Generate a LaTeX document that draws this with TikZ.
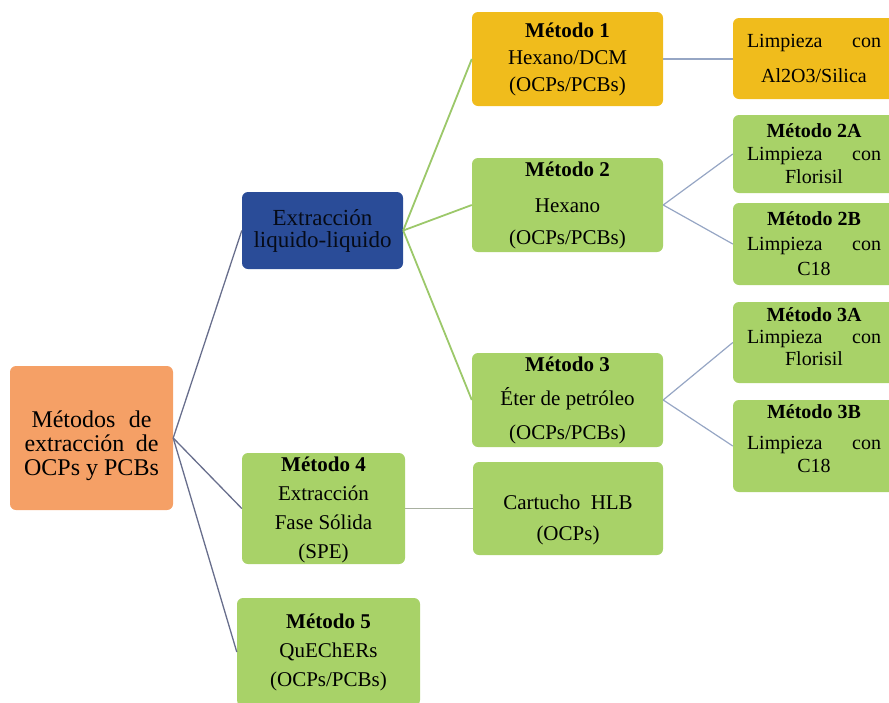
\documentclass[tikz,border=0pt]{standalone}
\usepackage{fontspec}
\setmainfont{Liberation Serif}
\definecolor{rootfill}{RGB}{245,160,102}
\definecolor{llfill}{RGB}{42,76,152}
\definecolor{greenfill}{RGB}{168,210,104}
\definecolor{goldfill}{RGB}{240,188,28}
\definecolor{rootline}{RGB}{104,110,140}
\definecolor{greenline}{RGB}{156,200,106}
\definecolor{subline}{RGB}{150,166,196}
\definecolor{hlbline}{RGB}{168,176,160}
\begin{document}
\begin{tikzpicture}[x=1pt,y=-1pt,
  box/.style={rounded corners=6pt, inner sep=0pt, align=center, text=black,
    font=\fontsize{21}{27}\selectfont},
  green/.style={box, fill=greenfill},
  gold/.style={box, fill=goldfill},
  midbox/.style={minimum width=191pt, minimum height=94pt},
  rightbox/.style={minimum width=162pt, font=\fontsize{20}{23}\selectfont},
  rootlink/.style={draw=rootline, line width=1.3pt},
  greenlink/.style={draw=greenline, line width=1.8pt},
  sublink/.style={draw=subline, line width=1.2pt}]
\useasboundingbox (0,0) rectangle (889,702);

% first level
\node[box, fill=rootfill, minimum width=163pt, minimum height=144pt,
  font=\fontsize{24}{24}\selectfont] (root) at (91.5,438)
  {\rule{0pt}{33pt}\makebox[120pt][s]{Métodos\hfill de}\\
   \makebox[134pt][s]{extracción\hfill de}\\ OCPs y PCBs};

% second level
\node[box, fill=llfill, minimum width=161pt, minimum height=77pt,
  font=\fontsize{23}{22}\selectfont, text={black!85!llfill}] (ll) at (322.5,230.5)
  {Extracción\\ liquido-liquido};
\node[green, minimum width=163pt, minimum height=111pt,
  font=\fontsize{21}{29}\selectfont] (m4) at (323.5,508.5)
  {\rule{0pt}{18pt}\textbf{Método 4}\\ Extracción\\ Fase Sólida\\ (SPE)};
\node[green, minimum width=183pt, minimum height=108pt,
  font=\fontsize{21}{29}\selectfont] (m5) at (328.5,652)
  {\textbf{Método 5}\\ QuEChERs\\ (OCPs/PCBs)};

% third level
\node[gold, midbox] (m1) at (567.5,59)
  {\textbf{Método 1}\\ Hexano/DCM\\ (OCPs/PCBs)};
\node[green, midbox, font=\fontsize{21}{32}\selectfont] (m2) at (567.5,205)
  {\textbf{Método 2}\\[4pt] Hexano\\ (OCPs/PCBs)};
\node[green, midbox, font=\fontsize{21}{34}\selectfont] (m3) at (567.5,400)
  {\textbf{Método 3}\\ Éter de petróleo\\ (OCPs/PCBs)};
\node[green, minimum width=190pt, minimum height=93pt,
  font=\fontsize{21}{31}\selectfont] (hlb) at (568,508.5)
  {\rule{0pt}{37pt}Cartucho\ \ HLB\\ (OCPs)};

% fourth level
\node[gold, rightbox, minimum height=81pt, font=\fontsize{20}{35}\selectfont] (a1) at (814,58.5)
  {\makebox[134pt][s]{Limpieza\hfill con}\\ Al2O3/Silica};
\node[green, rightbox, minimum height=78pt] (a2) at (814,154)
  {\textbf{Método 2A}\\ \makebox[134pt][s]{Limpieza\hfill con}\\ Florisil};
\node[green, rightbox, minimum height=82pt, font=\fontsize{20}{25}\selectfont] (b2) at (814,244)
  {\textbf{Método 2B}\\ \makebox[134pt][s]{Limpieza\hfill con}\\ C18};
\node[green, rightbox, minimum height=81pt, font=\fontsize{20}{22}\selectfont] (a3) at (814,342.5)
  {\textbf{Método 3A}\\ \makebox[134pt][s]{Limpieza\hfill con}\\ Florisil\rule[-12pt]{0pt}{0pt}};
\node[green, rightbox, minimum height=92pt] (b3) at (814,446)
  {\textbf{Método 3B}\\[8pt] \makebox[134pt][s]{Limpieza\hfill con}\\ C18\rule[-15pt]{0pt}{0pt}};

% connectors
\draw[rootlink] (root.east) -- (ll.west);
\draw[rootlink] (root.east) -- (m4.west);
\draw[rootlink] (root.east) -- (m5.west);
\draw[greenlink] (ll.east) -- (m1.west);
\draw[greenlink] (ll.east) -- (m2.west);
\draw[greenlink] (ll.east) -- (m3.west);
\draw[sublink] (m1.east) -- (a1.west |- m1.east);
\draw[sublink] (m2.east) -- (a2.west);
\draw[sublink] (m2.east) -- (b2.west);
\draw[sublink] (m3.east) -- (a3.west);
\draw[sublink] (m3.east) -- (b3.west);
\draw[draw=hlbline, line width=1.5pt] (m4.east) -- (hlb.west);
\end{tikzpicture}
\end{document}
